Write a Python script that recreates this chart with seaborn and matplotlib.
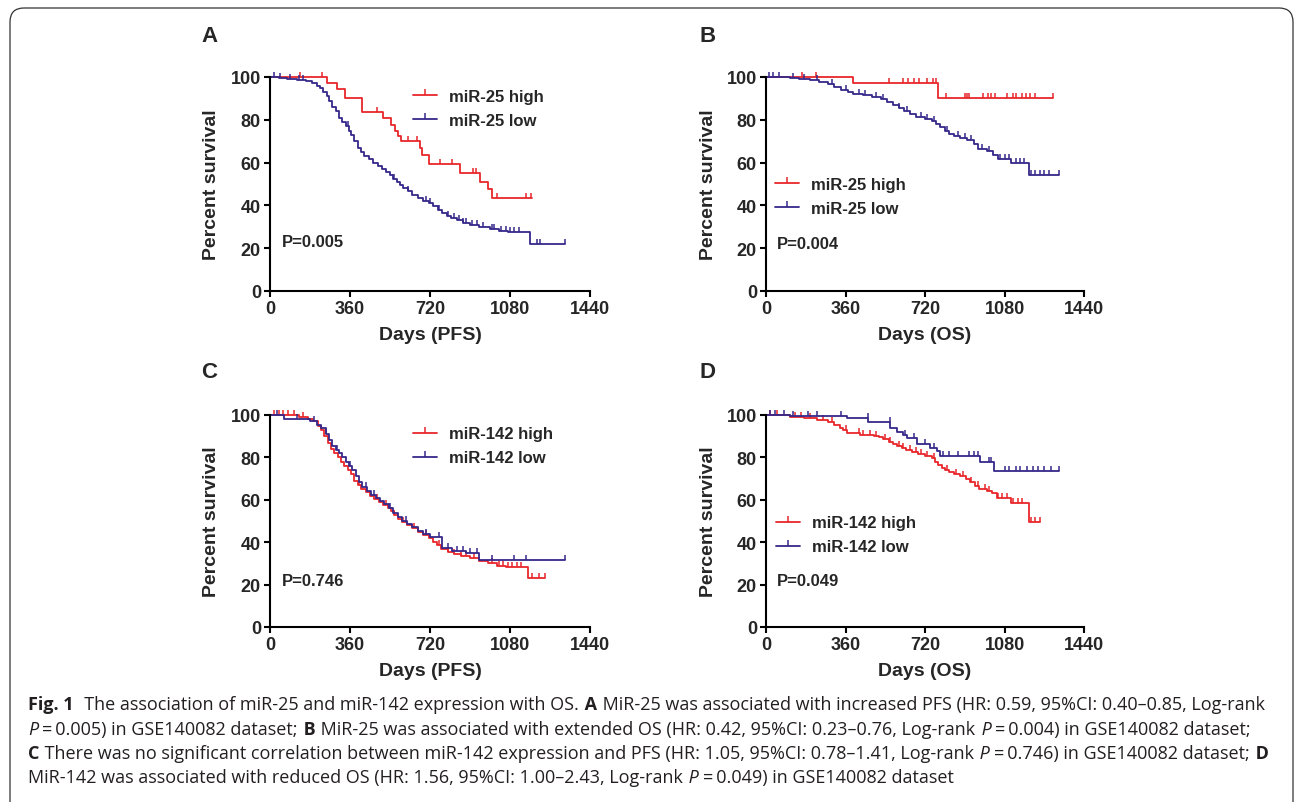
import numpy as np
import pandas as pd
import matplotlib
matplotlib.use('Agg')
import matplotlib.pyplot as plt
import seaborn as sns
from matplotlib.lines import Line2D
from matplotlib.patches import FancyBboxPatch
from matplotlib.transforms import IdentityTransform

# ---- data (step points: day, percent survival) ----
# A: miR-25, PFS
a_high_days = [0, 255, 300, 338, 413, 507, 545, 563, 578, 588, 675, 686, 717, 855, 945, 980, 998, 1178]
a_high_surv = [100, 97, 94.5, 90, 83.5, 81, 77.5, 75, 72.5, 70, 67, 63.5, 59.5, 55, 51, 47.5, 43.5, 43.5]
a_high_cens = [135, 233, 480, 623, 663, 765, 818, 915, 925, 1020, 1150, 1173]

a_low_days = [0, 40, 75, 120, 160, 190, 210, 225, 240, 255, 265, 280, 295, 310, 325, 340, 355, 365,
              380, 395, 410, 425, 445, 465, 485, 505, 520, 540, 555, 570, 585, 600, 620, 640, 665,
              690, 715, 735, 755, 775, 795, 815, 840, 870, 900, 940, 990, 1030, 1070, 1170, 1328]
a_low_surv = [100, 99.5, 99, 98.5, 98, 97, 96, 95, 93, 91, 89, 86, 84, 81, 79, 77, 75, 73,
              70, 67, 65, 63, 61.5, 60, 58.5, 57, 55.5, 54, 52.5, 51, 49.5, 48, 46.5, 45, 43.5,
              42, 41, 39.5, 38, 36.5, 35, 34, 33, 32, 31, 30, 29, 28, 27.5, 22, 22]
a_low_cens = [20, 45, 90, 130, 150, 350, 560, 620, 700, 720, 760, 800, 830, 850, 870, 880, 910, 930,
              960, 1000, 1010, 1040, 1060, 1080, 1100, 1120, 1200, 1215, 1328]

# B: miR-25, OS
b_high_days = [0, 395, 780, 1300]
b_high_surv = [100, 97, 90, 90]
b_high_cens = [161, 226, 558, 621, 644, 670, 694, 730, 754, 769, 817, 900, 908, 920, 983, 1006, 1021,
               1036, 1093, 1119, 1134, 1157, 1176, 1194, 1217, 1300]

b_low_days = [0, 110, 150, 200, 240, 280, 310, 340, 370, 395, 440, 480, 520, 550, 575, 600, 625, 650,
              680, 720, 750, 770, 790, 810, 830, 850, 880, 910, 940, 960, 1000, 1030, 1050, 1110, 1190, 1327]
b_low_surv = [100, 99.5, 99, 98.5, 97.5, 96.5, 95.5, 94, 93, 92, 91.5, 90.5, 89.5, 88.5, 87, 85.5, 84, 82.5,
              81.5, 80.5, 79.5, 78, 76.5, 75, 73.5, 72.5, 71.5, 70.5, 68.5, 66.5, 65.5, 63.5, 61.5, 60, 54, 54]
b_low_cens = [15, 30, 60, 120, 170, 230, 300, 360, 420, 450, 500, 530, 600, 640, 700, 730, 760, 820, 870,
              900, 930, 980, 1010, 1060, 1080, 1100, 1130, 1150, 1170, 1200, 1220, 1240, 1260, 1280, 1327]

# C: miR-142, PFS
c_high_days = [0, 130, 170, 195, 215, 230, 245, 260, 275, 290, 305, 320, 335, 350, 365, 380, 395, 410,
               430, 450, 470, 490, 510, 530, 545, 560, 575, 595, 615, 640, 665, 690, 715, 735, 750, 770,
               800, 830, 860, 900, 940, 980, 1020, 1060, 1163, 1238]
c_high_surv = [100, 99, 98, 97, 95, 93, 90, 87, 84, 82, 80, 78, 76, 74, 72, 69, 67, 65,
               63.5, 62, 60.5, 59, 57.5, 56, 54.5, 53, 51, 49.5, 48, 46.5, 45, 43.5, 42, 40, 38.5, 37,
               35.5, 34.5, 33.5, 32.5, 31, 30, 29, 28.5, 23, 23]
c_high_cens = [20, 40, 60, 80, 110, 150, 400, 480, 520, 560, 600, 650, 700, 760, 800, 830, 860, 880,
               920, 1000, 1030, 1050, 1070, 1090, 1110, 1130, 1180, 1210, 1238]

c_low_days = [0, 65, 180, 210, 230, 250, 265, 280, 295, 310, 325, 340, 355, 370, 385, 400, 415, 435,
              455, 475, 495, 515, 535, 555, 575, 595, 615, 640, 665, 690, 720, 775, 820, 880, 940, 1328]
c_low_surv = [100, 98, 97, 95.5, 94, 91, 88, 85.5, 83.5, 82, 80, 78, 76, 74, 71, 68.5, 66, 64,
              62.5, 61, 59.5, 58, 56, 54, 52, 50, 48.5, 47, 45.5, 44, 42.5, 37.5, 36, 35, 31.5, 31.5]
c_low_cens = [30, 120, 200, 250, 300, 360, 430, 470, 540, 610, 700, 760, 800, 840, 870, 900, 930,
              1000, 1100, 1150, 1328]

# D: miR-142, OS
d_high_days = [0, 110, 170, 230, 280, 310, 335, 350, 365, 425, 490, 510, 530, 555, 575, 595, 615, 635,
               660, 690, 720, 750, 765, 780, 795, 810, 830, 850, 880, 905, 925, 945, 965, 1000, 1025,
               1045, 1110, 1191, 1240]
d_high_surv = [100, 99, 98.5, 97.5, 96.5, 95.5, 94, 93, 91.5, 90.5, 90, 89.5, 88.5, 87.5, 86.5, 85.5, 84.5, 83.5,
               82.5, 81.5, 80.5, 79.5, 78, 76.5, 75, 74, 73, 72, 71, 70, 68.5, 66.5, 65, 64, 63,
               61, 58.7, 49.6, 49.6]
d_high_cens = [20, 50, 130, 160, 200, 260, 300, 360, 420, 440, 470, 500, 540, 560, 600, 620, 650, 680,
               700, 730, 760, 820, 860, 890, 930, 960, 990, 1010, 1050, 1070, 1090, 1120, 1140, 1160,
               1200, 1220, 1240]

d_low_days = [0, 110, 365, 463, 561, 591, 620, 640, 682, 742, 775, 790, 968, 1032, 1327]
d_low_surv = [100, 99.5, 98.5, 96.5, 94, 92, 90.5, 89, 86.5, 84.5, 83, 80.5, 78, 73.5, 73.5]
d_low_cens = [20, 40, 80, 120, 190, 230, 340, 460, 560, 630, 670, 720, 760, 800, 830, 870, 920, 940,
              960, 1010, 1020, 1080, 1100, 1130, 1150, 1180, 1210, 1230, 1260, 1290, 1327]

x_ticks = [0, 360, 720, 1080, 1440]
y_ticks = [0, 20, 40, 60, 80, 100]

RED = '#e8262b'
BLUE = '#35288a'

sns.set_style('ticks')
plt.rcParams['font.family'] = ['Liberation Sans', 'DejaVu Sans']
plt.rcParams['font.weight'] = 'bold'
plt.rcParams['axes.labelweight'] = 'bold'

fig = plt.figure(figsize=(12.95, 8.03), dpi=100)

W, H = 1295, 803


def add_axes_px(x0, x1, ytop, ybot):
    return fig.add_axes([x0 / W, 1 - ybot / H, (x1 - x0) / W, (ybot - ytop) / H])


def km_curve(ax, days, surv, cens, color):
    df = pd.DataFrame({'days': days, 'surv': surv})
    sns.lineplot(data=df, x='days', y='surv', ax=ax, color=color, lw=1.3,
                 drawstyle='steps-post', estimator=None, clip_on=False)
    idx = np.searchsorted(days, cens, side='right') - 1
    ax.plot(cens, np.asarray(surv)[idx], ls='none', marker=2, ms=3.5, mew=1.1,
            color=color, clip_on=False)


panels = [
    ('A', (270, 590, 78, 292), 'Days (PFS)', 'miR-25',
     (a_high_days, a_high_surv, a_high_cens), (a_low_days, a_low_surv, a_low_cens),
     (0.447, 0.946), 'P=0.005', (0.0375, 0.229), (209, 37)),
    ('B', (766, 1084, 78, 292), 'Days (OS)', 'miR-25',
     (b_high_days, b_high_surv, b_high_cens), (b_low_days, b_low_surv, b_low_cens),
     (0.028, 0.535), 'P=0.004', (0.035, 0.224), (708, 37)),
    ('C', (270, 590, 416, 628), 'Days (PFS)', 'miR-142',
     (c_high_days, c_high_surv, c_high_cens), (c_low_days, c_low_surv, c_low_cens),
     (0.447, 0.946), 'P=0.746', (0.0375, 0.217), (209, 372)),
    ('D', (766, 1084, 416, 628), 'Days (OS)', 'miR-142',
     (d_high_days, d_high_surv, d_high_cens), (d_low_days, d_low_surv, d_low_cens),
     (0.031, 0.526), 'P=0.049', (0.035, 0.217), (708, 372)),
]

for letter, box, xlab, mir, hi, lo, leg_xy, ptxt, p_xy, let_xy in panels:
    ax = add_axes_px(*box)
    km_curve(ax, *hi, RED)
    km_curve(ax, *lo, BLUE)
    ax.set_xlim(0, 1440)
    ax.set_ylim(0, 100)
    ax.set_xticks(x_ticks)
    ax.set_yticks(y_ticks)
    ax.tick_params(labelsize=13, width=1.5, length=4.5, pad=2, color='black')
    for lab in ax.get_xticklabels() + ax.get_yticklabels():
        lab.set_fontweight('bold')
    sns.despine(ax=ax)
    for s in ('left', 'bottom'):
        ax.spines[s].set_linewidth(1.5)
        ax.spines[s].set_color('black')
    ax.set_xlabel(xlab, fontsize=14, fontweight='bold')
    ax.set_ylabel('Percent survival', fontsize=14, fontweight='bold')
    ax.xaxis.set_label_coords(0.5, -0.165)
    ax.yaxis.set_label_coords(-0.155, 0.5)
    handles = [Line2D([], [], color=RED, lw=1.3, marker=2, ms=4.5, mew=1.1),
               Line2D([], [], color=BLUE, lw=1.3, marker=2, ms=4.5, mew=1.1)]
    ax.legend(handles, [f'{mir} high', f'{mir} low'], loc='upper left', bbox_to_anchor=leg_xy,
              frameon=False, borderpad=0, borderaxespad=0, handlelength=1.45,
              handletextpad=0.72, labelspacing=0.54, numpoints=1,
              prop={'size': 12, 'weight': 'bold'})
    ax.text(*p_xy, ptxt, transform=ax.transAxes, fontsize=12, fontweight='bold',
            ha='left', va='center')
    fig.text(let_xy[0] / W, 1 - let_xy[1] / H, letter, fontsize=16, fontweight='bold',
             ha='center', va='center')

# rounded frame
fig.patches.append(FancyBboxPatch((10, -30), 1283, 824, boxstyle='round,pad=0,rounding_size=14',
                                  transform=IdentityTransform(), fill=False, lw=0.9,
                                  edgecolor='#333333'))

# caption, drawn piece by piece so bold / italic words sit inline
cap_lines = [
    [('Fig. 1', 'bold', 'normal'),
     ('  The association of miR-25 and miR-142 expression with OS.', 'normal', 'normal'),
     (' A', 'bold', 'normal'),
     (' MiR-25 was associated with increased PFS (HR: 0.59, 95%CI: 0.40\u20130.85, Log-rank', 'normal', 'normal')],
    [('P', 'normal', 'italic'),
     ('\u2009=\u20090.005) in GSE140082 dataset;', 'normal', 'normal'),
     (' B', 'bold', 'normal'),
     (' MiR-25 was associated with extended OS (HR: 0.42, 95%CI: 0.23\u20130.76, Log-rank', 'normal', 'normal'),
     (' P', 'normal', 'italic'),
     ('\u2009=\u20090.004) in GSE140082 dataset;', 'normal', 'normal')],
    [('C', 'bold', 'normal'),
     (' There was no significant correlation between miR-142 expression and PFS (HR: 1.05, 95%CI: 0.78\u20131.41, Log-rank', 'normal', 'normal'),
     (' P', 'normal', 'italic'),
     ('\u2009=\u20090.746) in GSE140082 dataset;', 'normal', 'normal'),
     (' D', 'bold', 'normal')],
    [('MiR-142 was associated with reduced OS (HR: 1.56, 95%CI: 1.00\u20132.43, Log-rank', 'normal', 'normal'),
     (' P', 'normal', 'italic'),
     ('\u2009=\u20090.049) in GSE140082 dataset', 'normal', 'normal')],
]
cap_y = [705, 730, 754, 778]

renderer = fig.canvas.get_renderer()
for segs, yy in zip(cap_lines, cap_y):
    x = 28
    for txt, wt, st in segs:
        t = fig.text(x / W, 1 - yy / H, txt, fontsize=13, fontweight=wt, fontstyle=st,
                     family=['Open Sans', 'DejaVu Sans'], color='#231f20', ha='left', va='center')
        x = t.get_window_extent(renderer).x1 + 1

fig.savefig('out.png', dpi=100, facecolor='white')
